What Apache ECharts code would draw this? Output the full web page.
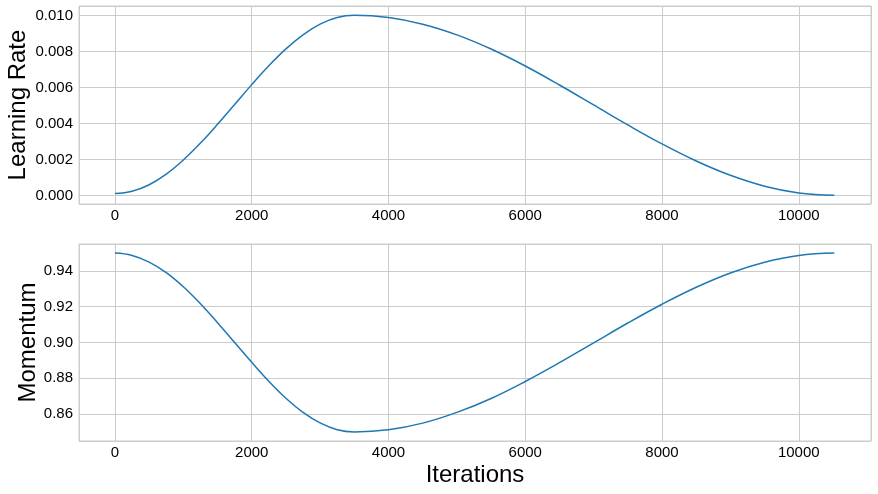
<!DOCTYPE html>
<html>
<head>
<meta charset="utf-8">
<script src="https://cdn.jsdelivr.net/npm/echarts@6/dist/echarts.min.js"></script>
<style>
html,body{margin:0;padding:0;background:#fff;}
#c{width:878px;height:494px;}
</style>
</head>
<body>
<div id="c"></div>
<script>
// Iteration sample points
const iterations = [0,250,500,750,1000,1250,1500,1750,2000,2250,2500,2750,3000,3250,3500,
  4000,4500,5000,5500,6000,6500,7000,7500,8000,8500,9000,9500,10000,10520];
const learningRate = [0.00010,0.000224,0.000590,0.001180,0.001964,0.002903,0.003948,0.005050,
  0.006152,0.007197,0.008136,0.008920,0.009510,0.009876,0.010000,
  0.009876,0.009508,0.008915,0.008128,0.007185,0.006131,0.005023,0.003912,0.002857,
  0.001908,0.001113,0.000510,0.000135,0.000000];
const momentum = [0.9500,0.9487,0.9450,0.9391,0.9312,0.9217,0.9111,0.9000,0.8889,0.8783,
  0.8688,0.8609,0.8550,0.8512,0.8500,
  0.8512,0.8549,0.8609,0.8687,0.8782,0.8887,0.8998,0.9109,0.9214,0.9309,0.9389,0.9449,
  0.9487,0.9500];
const xTicks = [0,2000,4000,6000,8000,10000];
const lrTicks = [0.000,0.002,0.004,0.006,0.008,0.010];
const momTicks = [0.86,0.88,0.90,0.92,0.94];

const FONT = '"Liberation Sans", Arial, sans-serif';
const GRID_C = '#cccccc';
const lrData = iterations.map((x,i)=>[x, learningRate[i]]);
const momData = iterations.map((x,i)=>[x, momentum[i]]);

function near(v, list, tol){ return list.some(t=>Math.abs(t-v)<tol); }

function xAxisCfg(idx, name){
  return {
    type:'value', gridIndex:idx, min:-526, max:11056, splitNumber:5,
    axisLine:{show:false}, axisTick:{show:false},
    splitLine:{show:true, lineStyle:{color:GRID_C, width:1}},
    axisLabel:{show:true, color:'#000', fontFamily:FONT, fontSize:15, margin:4,
      showMinLabel:false, showMaxLabel:false,
      formatter:v=> near(v,xTicks,1) ? String(Math.round(v)) : ''},
    name:name, nameLocation:'middle', nameGap:22, nameMoveOverlap:false,
    nameTextStyle:{color:'#000', fontFamily:FONT, fontSize:24}
  };
}

const chart = echarts.init(document.getElementById('c'), null, {renderer:'canvas'});
chart.setOption({
  animation:false,
  backgroundColor:'#fff',
  grid:[
    {left:79, right:7, top:6, height:198, show:true, borderColor:GRID_C, borderWidth:1,
     containLabel:false, outerBoundsMode:'none'},
    {left:79, right:7, top:244, height:197, show:true, borderColor:GRID_C, borderWidth:1,
     containLabel:false, outerBoundsMode:'none'}
  ],
  xAxis:[ xAxisCfg(0,''), xAxisCfg(1,'Iterations') ],
  yAxis:[
    {type:'value', gridIndex:0, min:-0.00048, max:0.01052, splitNumber:5,
     axisLine:{show:false}, axisTick:{show:false},
     splitLine:{show:true, lineStyle:{color:GRID_C}},
     axisLabel:{color:'#000', fontFamily:FONT, fontSize:15, margin:6,
       showMinLabel:false, showMaxLabel:false,
       formatter:v=> near(v,lrTicks,1e-6) ? v.toFixed(3) : ''},
     name:'Learning Rate', nameLocation:'middle', nameGap:49, nameMoveOverlap:false,
     nameTextStyle:{color:'#000', fontFamily:FONT, fontSize:24}},
    {type:'value', gridIndex:1, min:0.8449, max:0.9551, splitNumber:5,
     axisLine:{show:false}, axisTick:{show:false},
     splitLine:{show:true, lineStyle:{color:GRID_C}},
     axisLabel:{color:'#000', fontFamily:FONT, fontSize:15, margin:6,
       showMinLabel:false, showMaxLabel:false,
       formatter:v=> near(v,momTicks,1e-6) ? v.toFixed(2) : ''},
     name:'Momentum', nameLocation:'middle', nameGap:39, nameMoveOverlap:false,
     nameTextStyle:{color:'#000', fontFamily:FONT, fontSize:24}}
  ],
  series:[
    {type:'line', xAxisIndex:0, yAxisIndex:0, data:lrData, smooth:0.4, showSymbol:false,
     lineStyle:{color:'#1f77b4', width:1.5}},
    {type:'line', xAxisIndex:1, yAxisIndex:1, data:momData, smooth:0.4, showSymbol:false,
     lineStyle:{color:'#1f77b4', width:1.5}}
  ]
});
</script>
</body>
</html>
